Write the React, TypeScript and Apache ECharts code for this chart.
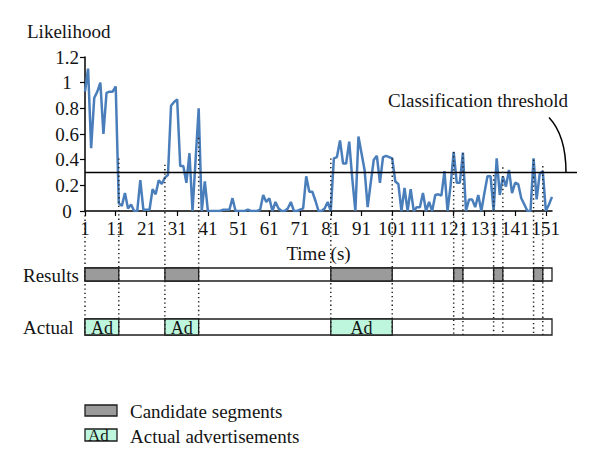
import React, { useEffect, useRef } from "react";
import * as echarts from "echarts";

// Likelihood per second (t = 1..153)
const likelihood = [
  0.93, 1.11, 0.49, 0.88, 0.93, 1.0, 0.6, 0.92, 0.93, 0.93,
  0.97, 0.06, 0.04, 0.14, 0.02, 0.05, 0, 0, 0.24, 0.01,
  0.01, 0.01, 0.17, 0.13, 0.24, 0.21, 0.26, 0.28, 0.82, 0.85,
  0.87, 0.35, 0.35, 0.22, 0.45, 0, 0.4, 0.8, 0, 0.23,
  0, 0, 0, 0, 0, 0.01, 0.01, 0.01, 0.1, 0,
  0, 0, 0, 0.01, 0, 0, 0, 0.01, 0.125, 0.07,
  0.1, 0, 0.07, 0.02, 0, 0, 0.02, 0.07, 0, 0,
  0.01, 0.02, 0.27, 0.15, 0.15, 0.08, 0, 0, 0.02, 0.07,
  0, 0.41, 0.42, 0.55, 0.37, 0.37, 0.54, 0.25, 0, 0.58,
  0.45, 0.32, 0.03, 0.22, 0.4, 0.43, 0.22, 0.42, 0.43, 0.42,
  0.41, 0.23, 0.21, 0, 0.18, 0, 0.17, 0, 0.03, 0.03,
  0.14, 0, 0.07, 0, 0.125, 0.13, 0.12, 0.31, 0, 0.2,
  0.46, 0.22, 0.22, 0.455, 0, 0.09, 0.09, 0.03, 0.125, 0,
  0.14, 0.27, 0.27, 0, 0.41, 0.125, 0.27, 0.19, 0.32, 0.14,
  0.22, 0.21, 0.1, 0.05, 0, 0, 0.41, 0.09, 0.29, 0.31,
  0, 0.05, 0.11,
];
const timeLabels = likelihood.map((_, i) => String(i + 1));
const threshold = 0.3;
const candidateSegments = [
  [1, 12], [27, 38], [81, 101], [121, 124], [134, 137], [147, 150],
];
const actualAds = [
  [1, 12], [27, 38], [81, 101],
];
const boundaryTimes = [1, 12, 27, 38, 81, 101, 121, 124, 134, 137, 147, 150];
const boundaryTops = [0, 0.41, 0.36, 0.57, 0.41, 0.41, 0.46, 0.45, 0.28, 0.34, 0.4, 0.35];

const FONT = '"Liberation Serif", "Times New Roman", serif';
const TXT = "#141414";
const GRAY = "#9b9b9b";
const MINT = "#bdf6dd";
const LINE = "#4a7ebb";

export default function App() {
  const ref = useRef<HTMLDivElement>(null);
  useEffect(() => {
    const chart = echarts.init(ref.current!, null, { renderer: "svg" });
    const N = likelihood.length;
    const txt = { fontFamily: FONT, fontSize: 19, color: TXT };

    const barRender = (fill: string, label?: string) => (params: any, api: any) => {
      const s = api.value(0);
      const e = api.value(1);
      const a = api.coord([s, 1]);
      const b = api.coord([e, 0]);
      const children: any[] = [
        {
          type: "rect",
          shape: { x: a[0], y: a[1], width: b[0] - a[0], height: b[1] - a[1] },
          style: { fill, stroke: "#1e1e1e", lineWidth: 1.3 },
        },
      ];
      if (label) {
        children.push({
          type: "text",
          x: (a[0] + b[0]) / 2,
          y: (a[1] + b[1]) / 2 + 1,
          style: { text: label, fill: TXT, font: `18px ${FONT}`, align: "center", verticalAlign: "middle" },
        });
      }
      return { type: "group", children };
    };

    chart.setOption({
      animation: false,
      backgroundColor: "#ffffff",
      grid: [
        { left: 85, right: 48, top: 57, height: 154 },
        { left: 85, right: 48, top: 268, height: 13 },
        { left: 85, right: 48, top: 319, height: 16 },
      ],
      xAxis: [
        {
          type: "category",
          gridIndex: 0,
          data: timeLabels,
          boundaryGap: false,
          name: "Time (s)",
          nameLocation: "middle",
          nameGap: 33,
          nameTextStyle: txt,
          axisLine: { lineStyle: { color: "#000", width: 1.5 } },
          axisTick: { interval: 9, length: 5, lineStyle: { color: "#000", width: 1.2 } },
          axisLabel: { interval: 9, margin: 8, ...txt },
          splitLine: { show: false },
        },
        { type: "value", gridIndex: 1, min: 1, max: N, show: false },
        { type: "value", gridIndex: 2, min: 1, max: N, show: false },
      ],
      yAxis: [
        {
          type: "value",
          gridIndex: 0,
          min: 0,
          max: 1.2,
          interval: 0.2,
          axisLine: { show: true, lineStyle: { color: "#000", width: 1.5 } },
          axisTick: { show: true, length: 5, lineStyle: { color: "#000", width: 1.2 } },
          axisLabel: { align: "center", margin: 18, ...txt },
          splitLine: { show: false },
        },
        { type: "value", gridIndex: 1, min: 0, max: 1, show: false },
        { type: "value", gridIndex: 2, min: 0, max: 1, show: false },
      ],
      series: [
        {
          type: "line",
          name: "Likelihood",
          xAxisIndex: 0,
          yAxisIndex: 0,
          data: likelihood,
          symbol: "none",
          lineStyle: { color: LINE, width: 2.5 },
          z: 3,
        },
        {
          type: "custom",
          name: "Results frame",
          xAxisIndex: 1,
          yAxisIndex: 1,
          data: [[1, N]],
          renderItem: barRender("#ffffff"),
        },
        {
          type: "custom",
          name: "Candidate segments",
          xAxisIndex: 1,
          yAxisIndex: 1,
          data: candidateSegments,
          renderItem: barRender(GRAY),
        },
        {
          type: "custom",
          name: "Actual frame",
          xAxisIndex: 2,
          yAxisIndex: 2,
          data: [[1, N]],
          renderItem: barRender("#ffffff"),
        },
        {
          type: "custom",
          name: "Actual advertisements",
          xAxisIndex: 2,
          yAxisIndex: 2,
          data: actualAds,
          renderItem: barRender(MINT, "Ad"),
        },
      ],
    });

    const xAt = (t: number) => chart.convertToPixel({ xAxisIndex: 0 }, t - 1) as unknown as number;
    const yAt = (v: number) => chart.convertToPixel({ yAxisIndex: 0 }, v) as unknown as number;
    const bottomY = chart.convertToPixel({ yAxisIndex: 2 }, 0) as unknown as number;
    const yT = yAt(threshold);
    const xEnd = xAt(N) + 25;

    const graphics: any[] = [];
    boundaryTimes.forEach((t, k) => {
      const x = xAt(t);
      graphics.push({
        type: "line",
        z: 10,
        shape: { x1: x, y1: yAt(boundaryTops[k]), x2: x, y2: bottomY },
        style: { stroke: "#222", lineWidth: 1.5, lineDash: [1.3, 3] },
      });
    });
    graphics.push(
      {
        type: "line",
        z: 9,
        shape: { x1: xAt(1), y1: yT, x2: xEnd, y2: yT },
        style: { stroke: "#000", lineWidth: 1.5 },
      },
      {
        type: "bezierCurve",
        z: 9,
        shape: { x1: xEnd - 28, y1: yT - 55, cpx1: xEnd - 11, cpy1: yT - 37, x2: xEnd - 11, y2: yT },
        style: { stroke: "#000", lineWidth: 1.5, fill: "none" },
      },
      {
        type: "text",
        x: xEnd - 9,
        y: yT - 72,
        style: { text: "Classification threshold", fill: TXT, font: `19px ${FONT}`, align: "right", verticalAlign: "middle" },
      },
      {
        type: "text",
        x: 27,
        y: 31,
        style: { text: "Likelihood", fill: TXT, font: `19px ${FONT}`, align: "left", verticalAlign: "middle" },
      },
      {
        type: "text",
        x: 23,
        y: 275,
        style: { text: "Results", fill: TXT, font: `19px ${FONT}`, align: "left", verticalAlign: "middle" },
      },
      {
        type: "text",
        x: 23,
        y: 327,
        style: { text: "Actual", fill: TXT, font: `19px ${FONT}`, align: "left", verticalAlign: "middle" },
      },
      {
        type: "rect",
        shape: { x: 85, y: 405, width: 32, height: 11 },
        style: { fill: GRAY, stroke: "#1e1e1e", lineWidth: 1.3 },
      },
      {
        type: "text",
        x: 130,
        y: 411,
        style: { text: "Candidate segments", fill: TXT, font: `19px ${FONT}`, align: "left", verticalAlign: "middle" },
      },
      {
        type: "rect",
        shape: { x: 85, y: 429, width: 32, height: 12 },
        style: { fill: MINT, stroke: "#1e1e1e", lineWidth: 1.3 },
      },
      {
        type: "text",
        x: 88,
        y: 435,
        style: { text: "Ad", fill: TXT, font: `17px ${FONT}`, align: "left", verticalAlign: "middle" },
      },
      {
        type: "text",
        x: 130,
        y: 436,
        style: { text: "Actual advertisements", fill: TXT, font: `19px ${FONT}`, align: "left", verticalAlign: "middle" },
      }
    );
    chart.setOption({ graphic: graphics });

    return () => chart.dispose();
  }, []);
  return <div ref={ref} style={{ position: "fixed", left: 0, top: 0, width: 600, height: 465 }} />;
}
